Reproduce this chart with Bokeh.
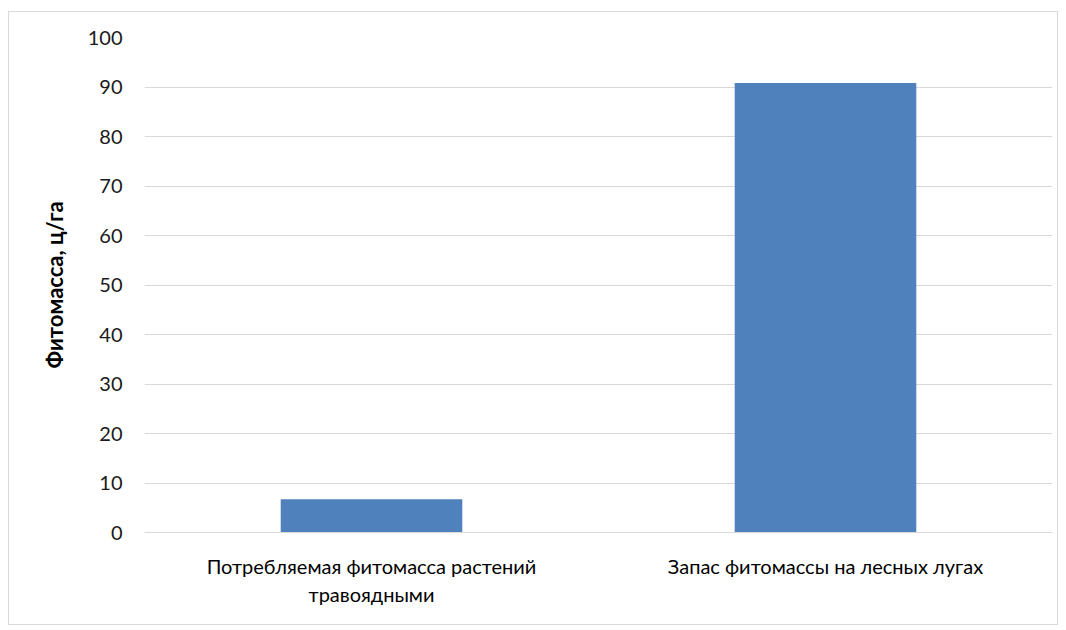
from bokeh.plotting import figure
from bokeh.models import ColumnDataSource, FixedTicker
from bokeh.embed import file_html
from bokeh.resources import INLINE

categories = ["Потребляемая фитомасса растений\nтравоядными", "Запас фитомассы на лесных лугах"]
values = [6.7, 90.8]
y_ticks = [0, 10, 20, 30, 40, 50, 60, 70, 80, 90, 100]

FONT = "Lato"

src = ColumnDataSource(data=dict(cat=categories, val=values))

# outer chart border drawn by CSS; figure offset by margin
p = figure(x_range=categories, y_range=(0, 100), width=1050, height=614,
           output_backend="svg", toolbar_location=None, tools="",
           min_border_left=135, min_border_right=7, min_border_top=25, min_border_bottom=94)
p.margin = (11, 0, 0, 8)
p.styles = {"border": "1px solid #d9d9d9", "box-sizing": "border-box"}

p.vbar(x="cat", top="val", width=0.4, source=src, color="#4f81bd", line_color=None)

p.outline_line_color = None
p.background_fill_color = "white"
p.border_fill_color = "white"

p.xgrid.grid_line_color = None
p.ygrid.grid_line_color = "#d9d9d9"
p.ygrid.grid_line_width = 1

p.yaxis.ticker = FixedTicker(ticks=y_ticks)
p.yaxis.axis_line_color = None
p.yaxis.major_tick_line_color = None
p.yaxis.minor_tick_line_color = None
p.yaxis.major_label_standoff = 16
p.yaxis.major_label_text_font = FONT
p.yaxis.major_label_text_font_size = "20px"
p.yaxis.major_label_text_color = "#1a1a1a"
p.yaxis.axis_label = "Фитомасса, ц/га"
p.yaxis.axis_label_text_font = FONT
p.yaxis.axis_label_text_font_style = "bold"
p.yaxis.axis_label_text_font_size = "22px"
p.yaxis.axis_label_text_color = "#000000"
p.yaxis.axis_label_standoff = 17

p.xaxis.axis_line_color = "#d9d9d9"
p.xaxis.major_tick_line_color = None
p.xaxis.minor_tick_line_color = None
p.xaxis.major_label_standoff = 15
p.xaxis.major_label_text_font = FONT
p.xaxis.major_label_text_font_size = "20px"
p.xaxis.major_label_text_color = "#000000"
p.xaxis.major_label_text_line_height = 1.2

open("out.html", "w").write(file_html(p, INLINE))
